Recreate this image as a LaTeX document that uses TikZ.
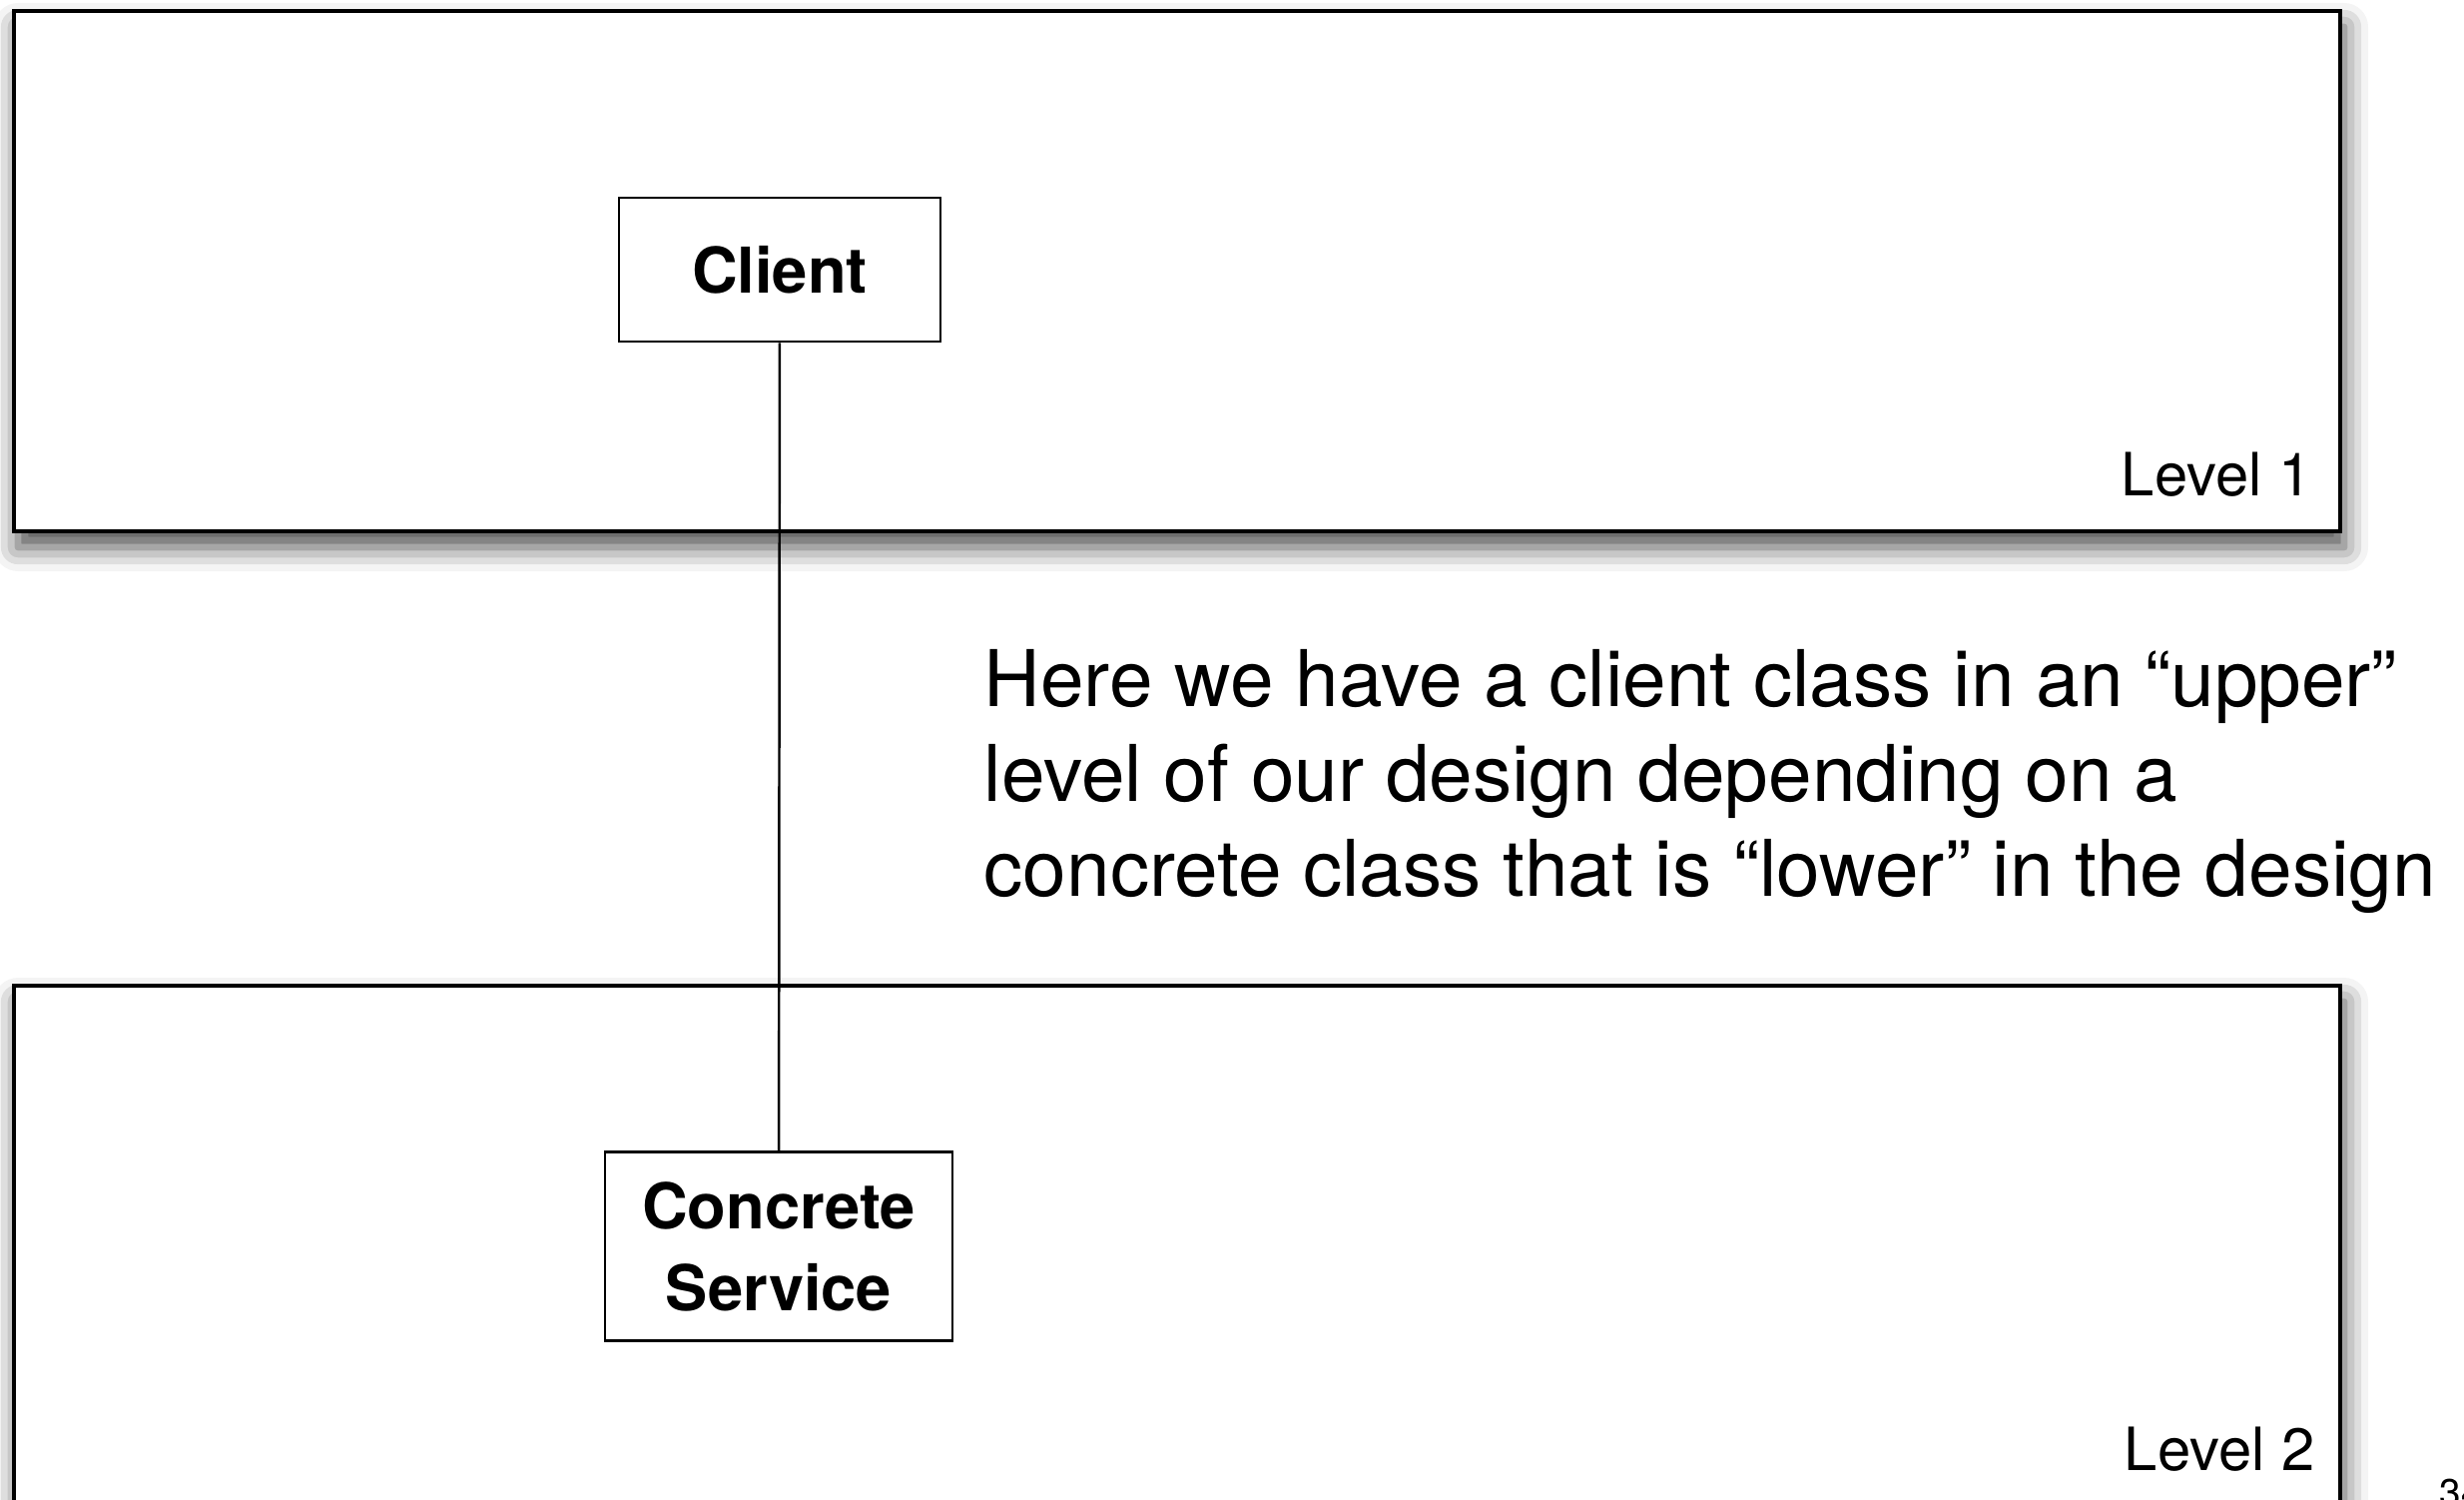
\documentclass[tikz,border=0pt]{standalone}
\usepackage{fontspec}
\setmainfont{TeX Gyre Heros}
\usetikzlibrary{shadows.blur}

\begin{document}
\begin{tikzpicture}[
	levelbox/.style={draw, line width=0.9pt, fill=white, blur shadow={shadow xshift=0.04cm, shadow yshift=-0.16cm, shadow blur radius=0.24cm, shadow opacity=70}},
	classbox/.style={draw, line width=0.8pt, fill=white, align=center, inner sep=0pt, font=\bfseries\fontsize{18}{23.3}\selectfont},
	levellabel/.style={anchor=base east, inner sep=0pt, font=\fontsize{17}{20}\selectfont}
	]
		\useasboundingbox (0,0) rectangle (24.68,-15.02);
		% the two levels
		\draw[levelbox] (0.14,-0.11) rectangle (23.44,-5.32);
		\draw[levelbox] (0.14,-9.87) rectangle (23.44,-15.6);
		\node[levellabel] (level1) at (23.16,-4.97) {Level 1};
		\node[levellabel] (level2) at (23.19,-14.72) {Level 2};
		% classes
		\node[classbox, minimum width=3.22cm, minimum height=1.44cm] (client) at (7.81,-2.70) {Client};
		\node[classbox, minimum width=3.48cm, minimum height=1.89cm] (service) at (7.80,-12.48) {Concrete\\Service};
		\draw[line width=0.7pt] (client) -- (service);
		% explanation
		\node[anchor=north west, align=left, inner sep=0pt, font=\fontsize{22.3}{27}\selectfont] (note) at (9.85,-6.50)
			{Here we have a client class in an “upper”\\level of our design depending on a\\concrete class that is “lower” in the design};
		\node[anchor=north west, inner sep=0pt, font=\fontsize{11}{13}\selectfont] (pagenum) at (24.43,-14.80) {34};
	\end{tikzpicture}
\end{document}
